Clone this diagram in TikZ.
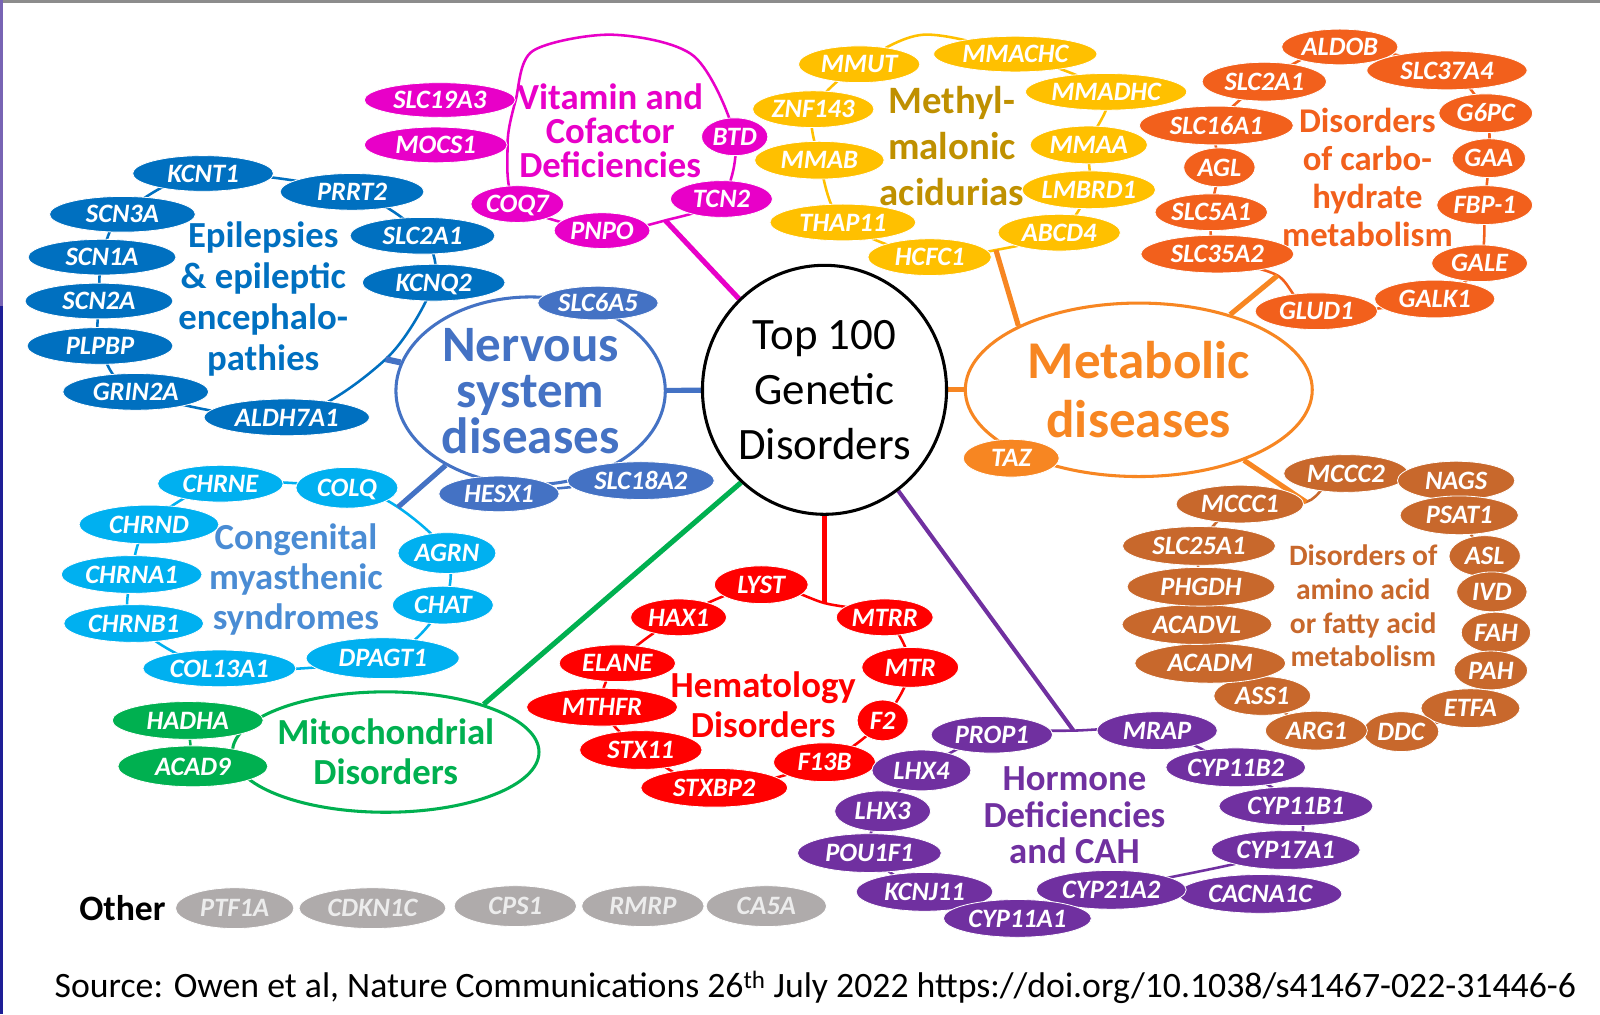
\documentclass[tikz,border=0pt]{standalone}
\usepackage{fontspec}
\setmainfont{Carlito}
\usetikzlibrary{shapes.geometric,backgrounds}

\definecolor{cframe}{RGB}{120,100,180}
\definecolor{cframeb}{RGB}{30,30,150}
\definecolor{cnerv}{RGB}{68,114,196}
\definecolor{cepi}{RGB}{0,112,192}
\definecolor{cvit}{RGB}{232,0,200}
\definecolor{cmma}{RGB}{255,192,0}
\definecolor{cmmat}{RGB}{191,144,0}
\definecolor{ccarb}{RGB}{242,96,28}
\definecolor{cmet}{RGB}{247,134,34}
\definecolor{camino}{RGB}{200,104,44}
\definecolor{ccms}{RGB}{0,176,240}
\definecolor{ccmst}{RGB}{74,140,212}
\definecolor{cmito}{RGB}{0,176,80}
\definecolor{chem}{RGB}{255,0,0}
\definecolor{chorm}{RGB}{112,48,160}
\definecolor{cother}{RGB}{175,171,171}

\newcommand\fsz[2]{\fontsize{#1}{#2}\selectfont\lineskiplimit=-100pt\relax}

\tikzset{
  gene/.style={ellipse,fill=#1,draw=white,line width=0.8pt,text=white,inner sep=0pt,
    text height=17pt,text depth=0pt,font=\fsz{26}{26}\bfseries\itshape},
  hub/.style={ellipse,draw=#1,text=#1,line width=3pt,fill=white,align=center,inner sep=0pt},
  title/.style={text=#1,align=center,inner sep=0pt},
  ring/.style={draw=#1,line width=2.5pt},
  link/.style={draw=#1,line width=5pt},
}

\begin{document}
\begin{tikzpicture}[x=1pt,y=-1pt]
  \useasboundingbox (0,0) rectangle (1568,994);
  \fill[black!45] (0,0) rectangle (1568,3);
  \fill[cframe] (0,0) rectangle (3,300);
  \fill[cframeb] (0,300) rectangle (3,994);

  % hubs
  \node[hub=black,font=\fsz{44}{54},minimum width=236pt,minimum height=244pt] (top) at (808,382) {Top 100\\Genetic\\Disorders};
  \node[hub=cnerv,font=\fsz{50}{45}\bfseries,minimum width=264pt,minimum height=184pt] (nerv) at (520,383) {Nervous\\system\\diseases};
  \node[hub=cmet,font=\fsz{52}{58}\bfseries,minimum width=340pt,minimum height=170pt] (metab) at (1116,382) {Metabolic\\diseases};
  \node[hub=cmito,font=\fsz{36}{39}\bfseries,minimum width=286pt,minimum height=118pt] (mito) at (378,737) {Mitochondrial\\Disorders};

  % vitamin and cofactor
  \node[title=cvit,font=\fsz{36}{33}\bfseries] (vitt) at (598,128) {Vitamin and\\Cofactor\\Deficiencies};
  \foreach \n/\g/\x/\y/\w/\h in {vslc/SLC19A3/431/98/148/34, vmocs/MOCS1/427/142/140/35,
      vbtd/BTD/720/134/65/37, vtcn/TCN2/707/195/100/36, vpnpo/PNPO/590/226/94/35, vcoq/COQ7/507/200/91/36}
    \node[gene=cvit,minimum width=\w pt,minimum height=\h pt] (\n) at (\x,\y) {\g};
  \coordinate (vitlink) at (652,216);

  % epilepsies
  \node[title=cepi,font=\fsz{36}{40}\bfseries] (epit) at (258,293) {Epilepsies\\\& epileptic\\encephalo-\\pathies};
  \foreach \n/\g/\x/\y/\w/\h in {ekcnt/KCNT1/199/170/138/35, eprrt/PRRT2/345/188/141/36,
      eslc/SLC2A1/414/231/142/36, ekcnq/KCNQ2/425/277/140/36, ealdh/ALDH7A1/281/409/162/36,
      egrin/GRIN2A/133/384/143/36, eplp/PLPBP/98/339/143/36, escn2/SCN2A/97/295/145/35,
      escn1/SCN1A/100/252/145/35, escn3/SCN3A/120/210/143/35}
    \node[gene=cepi,minimum width=\w pt,minimum height=\h pt] (\n) at (\x,\y) {\g};
  \coordinate (epilink) at (378,352);

  % nervous system
  \foreach \n/\g/\x/\y/\w/\h in {nslc6/SLC6A5/586/297/118/33, nhesx/HESX1/489/484/118/35,
      nslc18/SLC18A2/628/471/144/37}
    \node[gene=cnerv,minimum width=\w pt,minimum height=\h pt] (\n) at (\x,\y) {\g};

  % congenital myasthenic syndromes
  \node[title=ccmst,font=\fsz{36}{39}\bfseries] (cmst) at (290,568) {Congenital\\myasthenic\\syndromes};
  \foreach \n/\g/\x/\y/\w/\h in {cchrne/CHRNE/216/474/123/36, ccolq/COLQ/340/478/100/40,
      cagrn/AGRN/438/542/96/40, cchat/CHAT/434/593/99/37, cdpag/DPAGT1/375/645/150/40,
      ccol13/COL13A1/215/655/150/36, cchrnb/CHRNB1/131/611/137/37, cchrna/CHRNA1/129/563/138/37,
      cchrnd/CHRND/146/514/137/38}
    \node[gene=ccms,minimum width=\w pt,minimum height=\h pt] (\n) at (\x,\y) {\g};
  \coordinate (cmslink) at (390,497);

  % mitochondrial
  \foreach \n/\g/\x/\y/\w/\h in {mhadha/HADHA/184/706/148/37, macad/ACAD9/189/751/147/40}
    \node[gene=cmito,minimum width=\w pt,minimum height=\h pt] (\n) at (\x,\y) {\g};

  % hematology
  \node[title=chem,font=\fsz{36}{39}\bfseries] (hemt) at (748,691) {Hematology\\Disorders};
  \foreach \n/\g/\x/\y/\w/\h in {hlyst/LYST/746/573/92/37, hmtrr/MTRR/867/605/95/36,
      hmtr/MTR/892/654/95/39, hf2/F2/865/706/50/40, hf13b/F13B/808/747/100/38,
      hstxbp/STXBP2/700/772/144/38, hstx/STX11/628/735/120/38, hmthfr/MTHFR/590/693/148/37,
      helane/ELANE/605/650/114/36, hhax/HAX1/665/605/94/36}
    \node[gene=chem,minimum width=\w pt,minimum height=\h pt] (\n) at (\x,\y) {\g};
  \coordinate (hemlink) at (808,591);

  % hormone deficiencies
  \node[title=chorm,font=\fsz{36}{36}\bfseries] (rt) at (1053,799) {Hormone\\Deficiencies\\and CAH};
  \foreach \n/\g/\x/\y/\w/\h in {rprop/PROP1/972/720/119/36, rmrap/MRAP/1134/716/118/37,
      rb2/CYP11B2/1211/752/137/38, rb1/CYP11B1/1270/790/151/38, r17/CYP17A1/1260/833/146/38,
      rcac/CACNA1C/1235/876/160/38, r21/CYP21A2/1089/872/147/38, rkcnj/KCNJ11/906/874/134/38,
      ra1/CYP11A1/997/900/145/37, rpou/POU1F1/852/836/141/38, rlhx3/LHX3/865/795/94/40,
      rlhx4/LHX4/903/755/97/40}
    \node[gene=chorm,minimum width=\w pt,minimum height=\h pt] (\n) at (\x,\y) {\g};
  \coordinate (hormlink) at (1052,716);

  % metabolic
  \node[gene=cmet,minimum width=94pt,minimum height=37pt] (ttaz) at (991,449) {TAZ};

  % methylmalonic acidurias
  \node[title=cmmat,font=\fsz{38}{45}\bfseries] (mmat) at (933,143) {Methyl-\\malonic\\acidurias};
  \foreach \n/\g/\x/\y/\w/\h in {ammut/MMUT/842/63/119/36, ammachc/MMACHC/995/53/160/35,
      aznf/ZNF143/797/107/119/36, ammadhc/MMADHC/1084/90/158/36, ammab/MMAB/803/157/127/37,
      ammaa/MMAA/1067/142/115/37, athap/THAP11/826/218/143/36, almbrd/LMBRD1/1067/186/125/37,
      ahcfc/HCFC1/911/252/121/36, aabcd/ABCD4/1038/228/120/36}
    \node[gene=cmma,minimum width=\w pt,minimum height=\h pt] (\n) at (\x,\y) {\g};
  \coordinate (mmalink) at (976,245);

  % carbohydrate
  \node[title=ccarb,font=\fsz{34}{37}\bfseries] (carbt) at (1340,174) {Disorders\\of carbo-\\hydrate\\metabolism};
  \foreach \n/\g/\x/\y/\w/\h in {kaldob/ALDOB/1313/46/114/35, kslc37/SLC37A4/1418/69/157/38,
      kg6pc/G6PC/1456/111/92/38, kgaa/GAA/1459/155/72/38, kfbp/FBP-1/1455/201/94/38,
      kgale/GALE/1450/258/94/36, kgalk/GALK1/1406/293/118/37, kglud/GLUD1/1290/305/120/36,
      kslc35/SLC35A2/1193/249/150/37, kslc5/SLC5A1/1187/208/110/36, kagl/AGL/1195/164/70/38,
      kslc16/SLC16A1/1192/123/151/38, kslc2/SLC2A1/1239/80/122/38}
    \node[gene=ccarb,minimum width=\w pt,minimum height=\h pt] (\n) at (\x,\y) {\g};
  \coordinate (carblink) at (1252,270);

  % amino acid or fatty acid
  \node[title=camino,font=\fsz{29}{33}\bfseries] (aminot) at (1336,594) {Disorders of\\amino acid\\or fatty acid\\metabolism};
  \foreach \n/\g/\x/\y/\w/\h in {bmccc2/MCCC2/1319/464/122/37, bnags/NAGS/1427/471/115/38,
      bpsat/PSAT1/1430/505/116/38, basl/ASL/1455/545/70/40, bivd/IVD/1462/580/69/39,
      bfah/FAH/1466/620/68/40, bpah/PAH/1461/657/72/38, betfa/ETFA/1441/694/97/38,
      bddc/DDC/1373/717/74/39, barg/ARG1/1290/716/100/38, bass/ASS1/1237/682/95/38,
      bacadm/ACADM/1186/650/148/39, bacadvl/ACADVL/1173/612/147/39, bphgdh/PHGDH/1177/575/145/38,
      bslc25/SLC25A1/1175/535/150/38, bmccc1/MCCC1/1215/494/125/37}
    \node[gene=camino,minimum width=\w pt,minimum height=\h pt] (\n) at (\x,\y) {\g};
  \coordinate (aalink) at (1280,492);

  % other
  \node[font=\fsz{35}{35}\bfseries,inner sep=0pt] (xother) at (120,890) {Other};
  \foreach \g/\x/\y/\w in {PTF1A/230/890/116,CDKN1C/365/890/144,CPS1/505/888/120,RMRP/630/888/120,CA5A/751/888/118}
    \node[gene=cother,text=white!85!gray,minimum width=\w pt,minimum height=40pt] (x\g) at (\x,\y) {\g};

  \node[font=\fsz{35}{35},inner sep=0pt] (src) at (799,968) {Source: Owen et al, Nature Communications 26\textsuperscript{th} July 2022 https://doi.org/10.1038/s41467-022-31446-6};

  \begin{scope}[on background layer]
    \fill[white] (0,3) rectangle (1568,994);
    % rings
    \draw[ring=cvit] plot[smooth cycle] coordinates {(vslc.east) (522,50) (600,34) (680,55) (vbtd.center) (vtcn.center) (vitlink) (vpnpo.center) (vcoq.center) (vmocs.east)};
    \draw[ring=cepi] plot[smooth cycle] coordinates {(ekcnt.center) (eprrt.center) (eslc.center) (ekcnq.center) (epilink) (ealdh.center) (egrin.center) (eplp.center) (escn2.center) (escn1.center) (escn3.center)};
    \draw[ring=cnerv] (nhesx) -- (nslc18);
    \draw[ring=ccms] plot[smooth cycle] coordinates {(cchrne.center) (ccolq.center) (cmslink) (cagrn.center) (cchat.center) (cdpag.center) (ccol13.center) (cchrnb.center) (cchrna.center) (cchrnd.center)};
    \draw[ring=cmito] (mhadha) -- (macad);
    \draw[ring=chem] plot[smooth cycle] coordinates {(hlyst.center) (hemlink) (hmtrr.center) (hmtr.center) (hf2.center) (hf13b.center) (hstxbp.center) (hstx.center) (hmthfr.center) (helane.center) (hhax.center)};
    \draw[ring=chorm] plot[smooth cycle] coordinates {(rprop.center) (hormlink) (rmrap.center) (rb2.center) (rb1.center) (r17.center) (r21.center) (ra1.center) (rkcnj.center) (rpou.center) (rlhx3.center) (rlhx4.center)};
    \draw[ring=cmma] plot[smooth cycle] coordinates {(ammut.center) (905,34) (ammachc.center) (ammadhc.center) (ammaa.center) (almbrd.center) (aabcd.center) (mmalink) (ahcfc.center) (athap.center) (ammab.center) (aznf.center)};
    \draw[ring=ccarb] plot[smooth cycle] coordinates {(kaldob.center) (kslc37.center) (kg6pc.center) (kgaa.center) (kfbp.center) (kgale.center) (kgalk.center) (kglud.center) (carblink) (kslc35.center) (kslc5.center) (kagl.center) (kslc16.center) (kslc2.center)};
    \draw[ring=camino] plot[smooth cycle] coordinates {(bmccc2.center) (bnags.center) (bpsat.center) (basl.center) (bivd.center) (bfah.center) (bpah.center) (betfa.center) (bddc.center) (barg.center) (bass.center) (bacadm.center) (bacadvl.center) (bphgdh.center) (bslc25.center) (bmccc1.center) (aalink)};
    % links to the hubs
    \draw[link=cvit] (vitlink) -- (top);
    \draw[link=cnerv] (nerv) -- (top);
    \draw[link=cnerv,line width=6pt] (nerv) -- (epilink);
    \draw[link=cnerv] (nerv) -- (cmslink);
    \draw[link=cmet] (top) -- (metab);
    \draw[link=cmet] (metab.152) -- (mmalink);
    \draw[link=cmet] (metab) -- (carblink);
    \draw[link=cmet] (metab) -- (aalink);
    \draw[link=cmito] (mito.26) -- (top.228);
    \draw[link=chem] (top) -- (hemlink);
    \draw[link=chorm,line width=4pt] (top) -- (hormlink);
  \end{scope}
\end{tikzpicture}
\end{document}
